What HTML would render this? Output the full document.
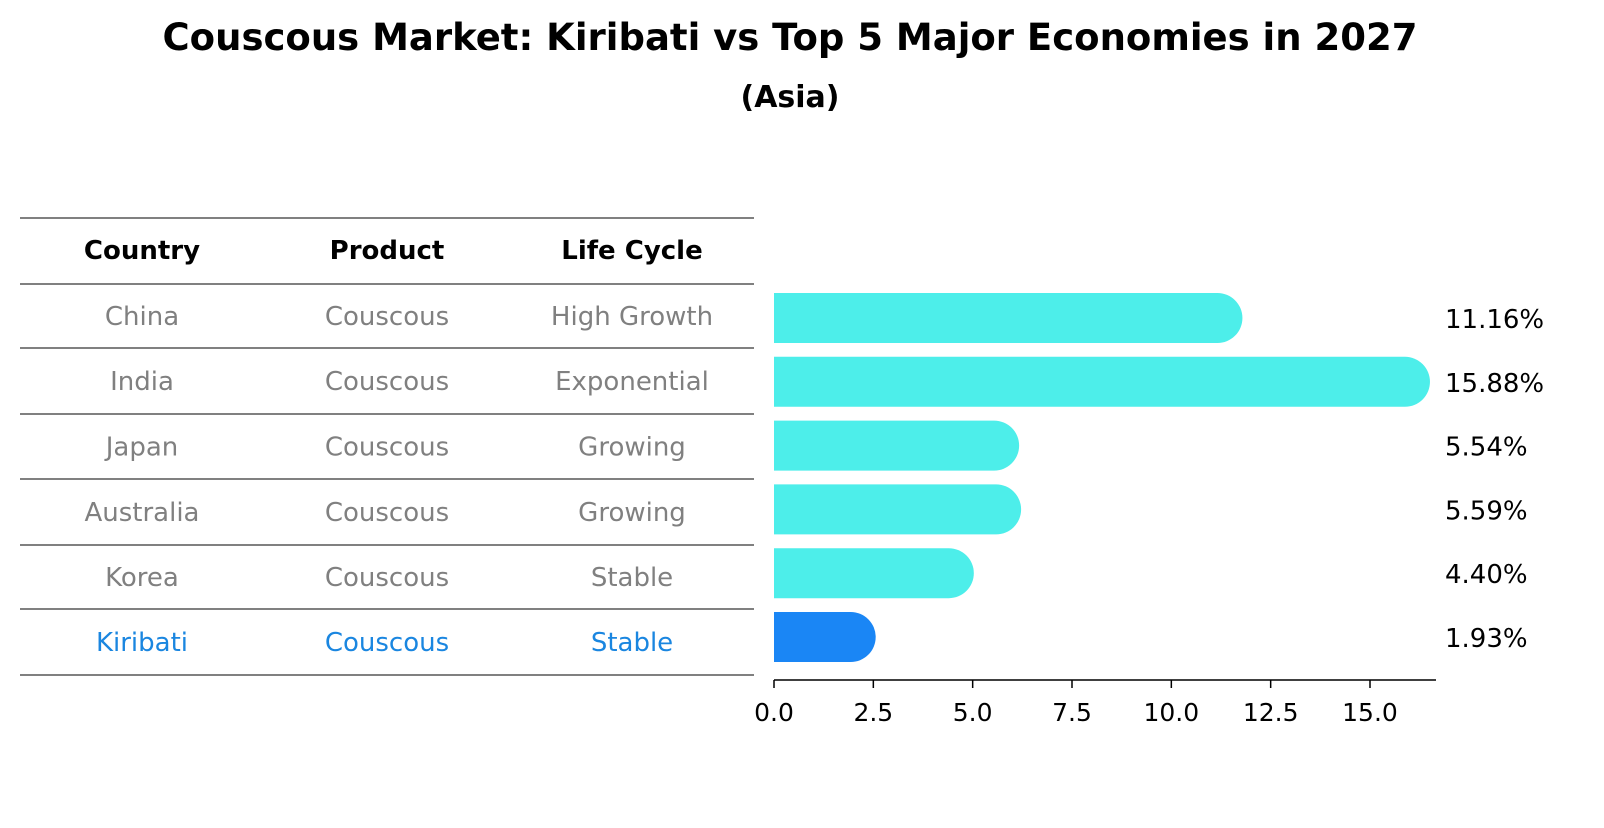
<!DOCTYPE html>
<html><head><meta charset="utf-8"><style>
body{margin:0;background:#fff;width:1604px;height:823px;overflow:hidden;font-family:"Liberation Sans","DejaVu Sans",sans-serif;}
</style></head><body>
<svg id="chart" width="1604" height="823" xmlns="http://www.w3.org/2000/svg" font-family="DejaVu Sans, Liberation Sans, sans-serif">
<text x="790" y="50" text-anchor="middle" font-size="37" font-weight="bold">Couscous Market: Kiribati vs Top 5 Major Economies in 2027</text>
<text x="790" y="107" text-anchor="middle" font-size="30" font-weight="bold">(Asia)</text>
<g id="table"></g>
<g id="bars"></g>
</svg>
<script>
const countries=["China","India","Japan","Australia","Korea","Kiribati"];
const products=["Couscous","Couscous","Couscous","Couscous","Couscous","Couscous"];
const lifeCycles=["High Growth","Exponential","Growing","Growing","Stable","Stable"];
const values=[11.16,15.88,5.54,5.59,4.40,1.93];
const tickLabels=["0.0","2.5","5.0","7.5","10.0","12.5","15.0"];
const tickValues=[0,2.5,5,7.5,10,12.5,15];

const NS="http://www.w3.org/2000/svg";
function mk(tag,attrs,parent){const e=document.createElementNS(NS,tag);for(const k in attrs)e.setAttribute(k,attrs[k]);parent.appendChild(e);return e;}
const tbl=document.getElementById('table');
const lineYs=[218,284,348,414,479,545,609,675];
const colX=[142,387,632];
lineYs.forEach((y,i)=>{const l=mk('line',{x1:20,x2:754,y1:y,y2:y,stroke:'#000','stroke-width':1},tbl);

});
["Country","Product","Life Cycle"].forEach((h,j)=>{const t=mk('text',{x:colX[j],y:259,'text-anchor':'middle','font-size':26,'font-weight':'bold'},tbl);t.textContent=h;

});
countries.forEach((c,i)=>{
 const col=c==="Kiribati"?"#1a86e0":"#808080";
 const y=(lineYs[i+1]+lineYs[i+2])/2+9;
 [c,products[i],lifeCycles[i]].forEach((v,j)=>{const t=mk('text',{x:colX[j],y:y,'text-anchor':'middle','font-size':26,fill:col},tbl);t.textContent=v;
 
 });
});
const bars=document.getElementById('bars');
const x0=774,scale=(1370-774)/15;
function xs(v){return x0+v*scale;}
const bh=50;
values.forEach((v,i)=>{
 const cy=318+63.8*i;
 const r=25;
 const xe=xs(v);
 const col=countries[i]==="Kiribati"?"#1a86f5":"#4deeea";
 const p=mk('path',{d:`M${x0},${cy-bh/2} H${xe} A${r},${r} 0 0 1 ${xe},${cy+bh/2} H${x0} Z`,fill:col},bars);
 
 
 const t=mk('text',{x:1445,y:cy+10,'font-size':26},bars);t.textContent=v.toFixed(2)+"%";
 
 
});
const ax=mk('line',{x1:774,x2:1436,y1:680,y2:680,stroke:'#000','stroke-width':1.5},bars);


tickValues.forEach((v,i)=>{
 const x=xs(v);
 const tk=mk('line',{x1:x,x2:x,y1:680,y2:688,stroke:'#000','stroke-width':1.5},bars);
 
 
 const t=mk('text',{x:x,y:721,'text-anchor':'middle','font-size':25},bars);t.textContent=tickLabels[i];
 
 
});
</script>
</body></html>
